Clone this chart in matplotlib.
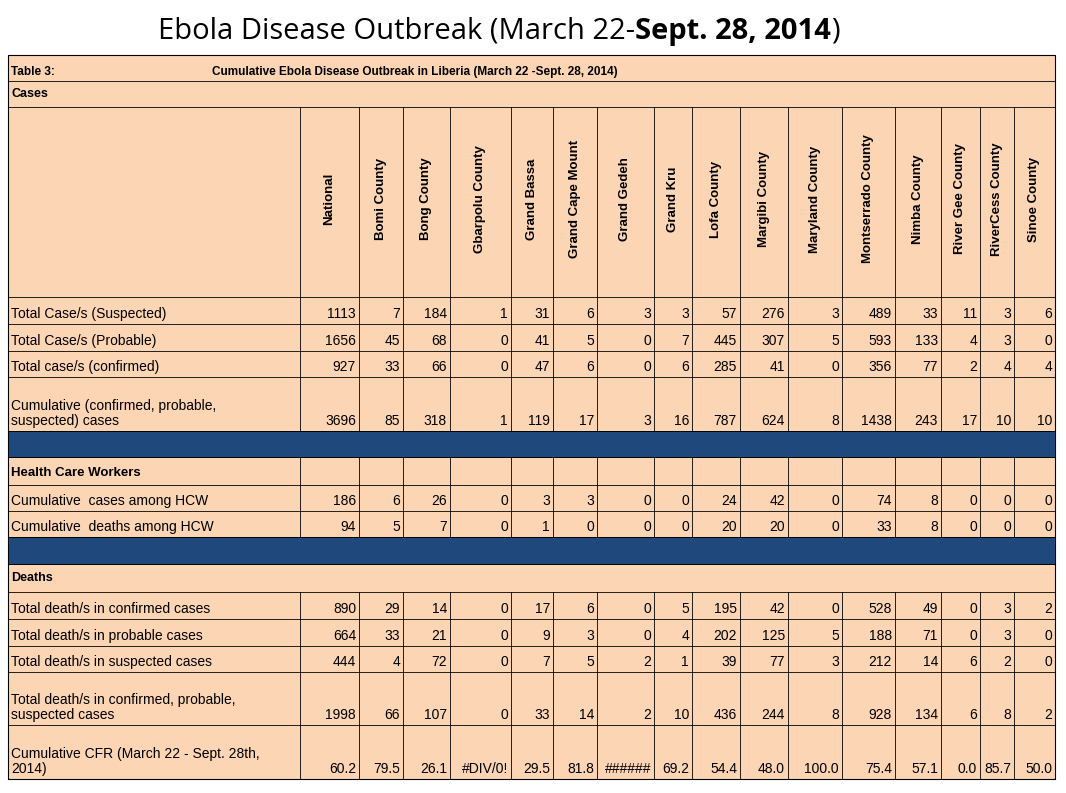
import matplotlib.pyplot as plt
from matplotlib.patches import Rectangle

counties = ["National", "Bomi County", "Bong County", "Gbarpolu County", "Grand Bassa",
            "Grand Cape Mount", "Grand Gedeh", "Grand Kru", "Lofa County", "Margibi County",
            "Maryland County", "Montserrado County", "Nimba County", "River Gee County",
            "RiverCess County", "Sinoe County"]

suspected = [1113, 7, 184, 1, 31, 6, 3, 3, 57, 276, 3, 489, 33, 11, 3, 6]
probable = [1656, 45, 68, 0, 41, 5, 0, 7, 445, 307, 5, 593, 133, 4, 3, 0]
confirmed = [927, 33, 66, 0, 47, 6, 0, 6, 285, 41, 0, 356, 77, 2, 4, 4]
cumulative = [3696, 85, 318, 1, 119, 17, 3, 16, 787, 624, 8, 1438, 243, 17, 10, 10]
hcw_cases = [186, 6, 26, 0, 3, 3, 0, 0, 24, 42, 0, 74, 8, 0, 0, 0]
hcw_deaths = [94, 5, 7, 0, 1, 0, 0, 0, 20, 20, 0, 33, 8, 0, 0, 0]
d_confirmed = [890, 29, 14, 0, 17, 6, 0, 5, 195, 42, 0, 528, 49, 0, 3, 2]
d_probable = [664, 33, 21, 0, 9, 3, 0, 4, 202, 125, 5, 188, 71, 0, 3, 0]
d_suspected = [444, 4, 72, 0, 7, 5, 2, 1, 39, 77, 3, 212, 14, 6, 2, 0]
d_total = [1998, 66, 107, 0, 33, 14, 2, 10, 436, 244, 8, 928, 134, 6, 8, 2]
cfr = ["60.2", "79.5", "26.1", "#DIV/0!", "29.5", "81.8", "######", "69.2", "54.4", "48.0",
       "100.0", "75.4", "57.1", "0.0", "85.7", "50.0"]

peach = "#FCD5B4"
blue = "#1F497D"
xs = [8, 300, 359, 403, 450, 511, 553, 597, 654, 692, 740, 788, 842, 895, 941, 980, 1014, 1055]

# (label, values, top, bottom, kind)
rows = [
    ("Cases", None, 81, 107, "section"),
    (None, None, 107, 297, "header"),
    ("Total Case/s (Suspected)", suspected, 297, 324, "data"),
    ("Total Case/s (Probable)", probable, 324, 351, "data"),
    ("Total case/s (confirmed)", confirmed, 351, 377, "data"),
    ("Cumulative (confirmed, probable,\nsuspected) cases", cumulative, 377, 431, "data"),
    (None, None, 431, 457, "blue"),
    ("Health Care Workers", None, 457, 485, "grid"),
    ("Cumulative  cases among HCW", hcw_cases, 485, 511, "data"),
    ("Cumulative  deaths among HCW", hcw_deaths, 511, 537, "data"),
    (None, None, 537, 564, "blue"),
    ("Deaths", None, 564, 592, "section"),
    ("Total death/s in confirmed cases", d_confirmed, 592, 619, "data"),
    ("Total death/s in probable cases", d_probable, 619, 646, "data"),
    ("Total death/s in suspected cases", d_suspected, 646, 672, "data"),
    ("Total death/s in confirmed, probable,\nsuspected cases", d_total, 672, 725, "data"),
    ("Cumulative CFR (March 22 - Sept. 28th,\n2014)", cfr, 725, 779, "data"),
]

fig = plt.figure(figsize=(10.66, 7.93), dpi=100)
ax = fig.add_axes([0, 0, 1, 1])
ax.set_xlim(0, 1066)
ax.set_ylim(793, 0)
ax.axis("off")

font = "Liberation Sans"
ax.add_patch(Rectangle((8, 55), 1047, 724, facecolor=peach, edgecolor="black", lw=0.8))
ax.plot([8, 1055], [81, 81], color="black", lw=0.6)
ax.text(11, 72, "Table 3:", fontsize=8.5, fontweight="bold", va="center", family=font)
ax.text(212, 72, "Cumulative Ebola Disease Outbreak in Liberia (March 22 -Sept. 28, 2014)",
        fontsize=8.5, fontweight="bold", va="center", family=font)

for label, vals, top, bot, kind in rows:
    ax.plot([8, 1055], [bot, bot], color="black", lw=0.6)
    if kind == "blue":
        ax.add_patch(Rectangle((8, top), 1047, bot - top, facecolor=blue, edgecolor="black", lw=0.6))
        continue
    if kind == "section":
        ax.text(11, (top + bot) / 2, label, fontsize=9, fontweight="bold", va="center", family=font)
        continue
    for x in xs[1:-1]:
        ax.plot([x, x], [top, bot], color="black", lw=0.6)
    if kind == "header":
        for i, name in enumerate(counties):
            cx = (xs[i + 1] + xs[i + 2]) / 2
            ax.text(cx, (top + bot) / 2 - 3, name, rotation=90, fontsize=9.5, fontweight="bold",
                    ha="center", va="center", family=font)
    elif kind == "grid":
        ax.text(11, (top + bot) / 2 + 2, label, fontsize=9.5, fontweight="bold", va="center", family=font)
    else:
        ax.text(11, bot - 3, label, fontsize=10, va="bottom", family=font, linespacing=1.1)
        for i, v in enumerate(vals):
            ax.text(xs[i + 2] - 3, bot - 3, str(v), fontsize=10, ha="right", va="bottom", family=font)

t1 = ax.text(158, 31, "Ebola Disease Outbreak (March 22-", fontsize=21, va="center", family="Open Sans")
t2 = ax.annotate("Sept. 28, 2014", xy=(1, 0), xycoords=t1, va="bottom", fontsize=21,
                 fontweight="bold", family="Open Sans")
ax.annotate(")", xy=(1, 0), xycoords=t2, va="bottom", fontsize=21, family="Open Sans")

fig.savefig("out.png", dpi=100)
